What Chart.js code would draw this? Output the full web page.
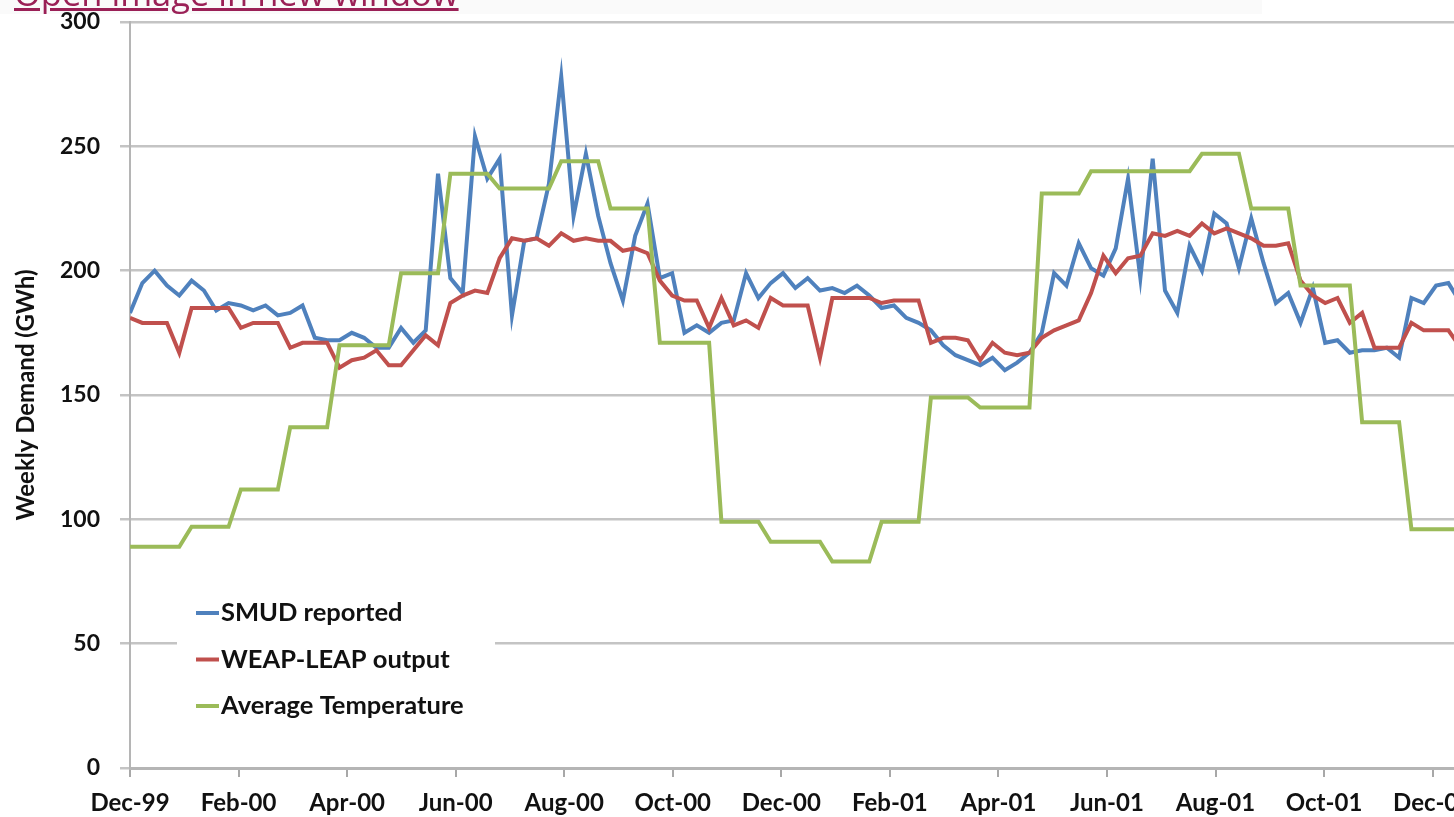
<!DOCTYPE html>
<html>
<head>
<meta charset="utf-8">
<title>Weekly Demand</title>
<script src="https://cdn.jsdelivr.net/npm/chart.js@4.4.1/dist/chart.umd.min.js"></script>
<style>
  html, body { margin: 0; padding: 0; background: #fff; overflow: hidden; width: 1454px; height: 817px; }
  #topbar { position: absolute; left: 0; top: 0; width: 1262px; height: 14px; background: #fafafa; }
  #chart { position: absolute; left: 0; top: 0; }
  #openlink { position: absolute; left: 14px; top: -31px; font-family: "Open Sans", sans-serif; font-size: 34.5px;
              color: #9a2056; text-decoration: underline; white-space: nowrap; }
</style>
</head>
<body>
<div id="topbar"></div>
<canvas id="chart" width="1515" height="817"></canvas>
<a id="openlink" href="#">Open image in new window</a>
<script>
// x axis labels, one every two months
const monthLabels = ['Dec-99', 'Feb-00', 'Apr-00', 'Jun-00', 'Aug-00', 'Oct-00',
                     'Dec-00', 'Feb-01', 'Apr-01', 'Jun-01', 'Aug-01', 'Oct-01', 'Dec-01'];
const weeksPerTick = 8.81;

// weekly values, Dec-99 onwards
const smud = [183,195,200,194,190,196,192,184,187,186,
              184,186,182,183,186,173,172,172,175,173,
              169,169,177,171,176,239,197,191,254,237,
              245,182,212,213,235,278,222,247,222,203,
              188,214,227,197,199,175,178,175,179,180,
              199,189,195,199,193,197,192,193,191,194,
              190,185,186,181,179,176,170,166,164,162,
              165,160,163,167,175,199,194,211,201,198,
              209,237,197,245,192,183,210,200,223,219,
              201,221,203,187,191,179,193,171,172,167,
              168,168,169,165,189,187,194,195,187];

const weapLeap = [181,179,179,179,167,185,185,185,185,177,
                  179,179,179,169,171,171,171,161,164,165,
                  168,162,162,168,174,170,187,190,192,191,
                  205,213,212,213,210,215,212,213,212,212,
                  208,209,207,196,190,188,188,177,189,178,
                  180,177,189,186,186,186,165,189,189,189,
                  189,187,188,188,188,171,173,173,172,164,
                  171,167,166,167,173,176,178,180,191,206,
                  199,205,206,215,214,216,214,219,215,217,
                  215,213,210,210,211,196,190,187,189,179,
                  183,169,169,169,179,176,176,176,169];

const avgTemp = [89,89,89,89,89, 97,97,97,97, 112,112,112,112, 137,137,137,137,
                 170,170,170,170,170, 199,199,199,199, 239,239,239,239,
                 233,233,233,233,233, 244,244,244,244, 225,225,225,225,
                 171,171,171,171,171, 99,99,99,99, 91,91,91,91,91, 83,83,83,83,
                 99,99,99,99, 149,149,149,149, 145,145,145,145,145,
                 231,231,231,231, 240,240,240,240,240,240,240,240,240,
                 247,247,247,247, 225,225,225,225, 194,194,194,194,194,
                 139,139,139,139, 96,96,96,96,96];

const toPoints = arr => arr.map((v, i) => ({ x: i, y: v }));
const tickWeeks = monthLabels.map((_, i) => i * weeksPerTick);

// legend sits inside the plot, bottom left, on a white box
const inChartLegend = {
  id: 'inChartLegend',
  afterDatasetsDraw(chart, args, o) {
    const ctx = chart.ctx;
    ctx.save();
    ctx.fillStyle = '#fff';
    ctx.fillRect(o.x, o.y, o.w, o.h);
    ctx.font = 'bold 25.5px Lato';
    ctx.textBaseline = 'middle';
    chart.data.datasets.forEach((ds, i) => {
      const y = o.firstRow + i * o.rowGap;
      ctx.strokeStyle = ds.borderColor;
      ctx.lineWidth = 4;
      ctx.beginPath();
      ctx.moveTo(o.lineX, y);
      ctx.lineTo(o.lineX + o.lineLen, y);
      ctx.stroke();
      ctx.fillStyle = '#111';
      ctx.fillText(ds.label, o.lineX + o.lineLen + 2, y);
    });
    ctx.restore();
  }
};

new Chart(document.getElementById('chart'), {
  type: 'line',
  data: {
    datasets: [
      { label: 'SMUD reported', data: toPoints(smud), borderColor: '#4f81bd', order: 2 },
      { label: 'WEAP-LEAP output', data: toPoints(weapLeap), borderColor: '#c0504d', order: 1 },
      { label: 'Average Temperature', data: toPoints(avgTemp), borderColor: '#9bbb59', order: 0 }
    ]
  },
  options: {
    responsive: false,
    animation: false,
    devicePixelRatio: 1,
    layout: { padding: { top: 22, right: 5, left: 0, bottom: 0 } },
    elements: {
      point: { radius: 0 },
      line: { borderWidth: 4, tension: 0 }
    },
    plugins: {
      legend: { display: false },
      tooltip: { enabled: false },
      inChartLegend: { x: 177, y: 588, w: 318, h: 140, lineX: 196, lineLen: 23, firstRow: 613, rowGap: 46.5 }
    },
    scales: {
      x: {
        type: 'linear',
        min: 0,
        max: 112,
        afterBuildTicks: s => { s.ticks = tickWeeks.map(v => ({ value: v })); },
        afterFit: s => { s.height = 49; },
        grid: { drawOnChartArea: false, tickLength: 9, color: '#a8a8a8', lineWidth: 2 },
        border: { display: true, color: '#b5b5b5', width: 3 },
        ticks: {
          callback: (v, i) => monthLabels[i],
          font: { family: 'Lato', size: 24, weight: 'bold' }, color: '#111', padding: 12,
          maxRotation: 0, autoSkip: false
        }
      },
      y: {
        min: 0,
        max: 300,
        afterFit: s => { s.width = 130; s.paddingTop = 0; s.paddingBottom = 0; },
        ticks: { stepSize: 50, font: { family: 'Lato', size: 23, weight: 'bold' }, color: '#111', padding: 20 },
        grid: { color: '#c4c4c4', lineWidth: 2.5, tickLength: 10 },
        border: { display: true, color: '#b5b5b5', width: 2 },
        title: {
          display: true, text: 'Weekly Demand (GWh)', color: '#111',
          font: { family: 'Lato', size: 24, weight: 'bold' },
          padding: { top: 12, bottom: 0 }
        }
      }
    }
  },
  plugins: [inChartLegend]
});
</script>
</body>
</html>
